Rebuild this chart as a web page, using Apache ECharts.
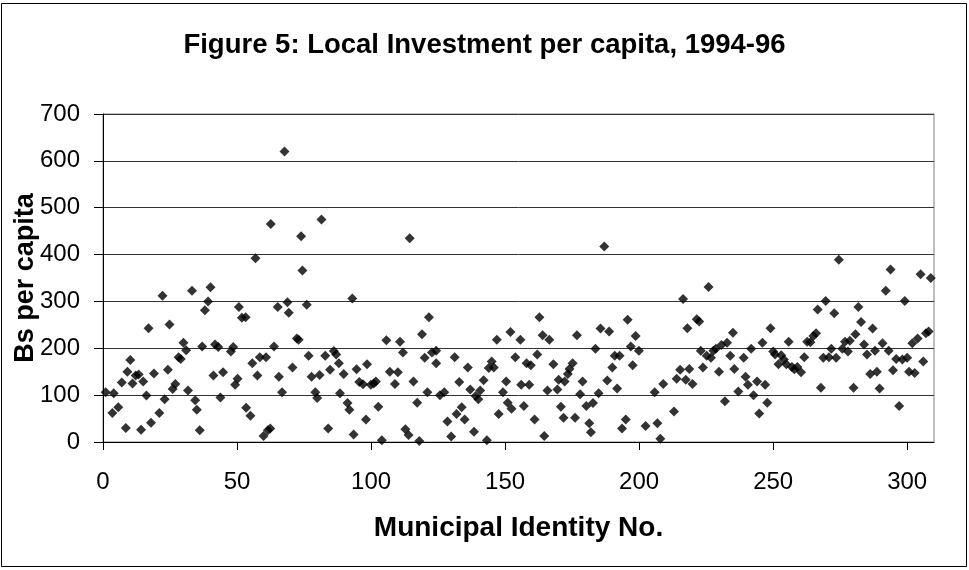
<!DOCTYPE html>
<html lang="en">
<head>
    <meta charset="UTF-8">
    <title>Figure 5: Local Investment per capita</title>
    <script src="https://cdn.jsdelivr.net/npm/echarts@6/dist/echarts.min.js"></script>
    <style>
        html, body {
            margin: 0;
            padding: 0;
            background: #fff;
        }
        #chart {
            width: 969px;
            height: 570px;
        }
    </style>
</head>
<body>
<div id="chart"></div>
<script>
    // municipal identity number (x) and Bs per capita (y)
    const ids = [
        1, 4, 3.5, 5.7, 7, 8.5, 9.1, 10.2, 11, 12.2, 13.3, 14.2, 15, 16.2, 17, 17.9, 19, 21, 22.2, 23,
        24.2, 24.8, 26, 27, 28.2, 29, 30, 31, 31.7, 33.2, 34.4, 35, 36.1, 37, 38, 39.2, 40.1, 41.2, 41.8, 43,
        43.8, 44.8, 47.7, 48.6, 49.3, 50.2, 50.7, 51.8, 53.2, 53.4, 55, 55.7, 56.9, 57.6, 58.5, 59.9, 60.8, 61.5, 62.4, 62.6,
        63.8, 65.2, 65.6, 66.8, 67.7, 68.8, 69.3, 70.7, 72.3, 73, 73.9, 74.4, 76, 76.7, 77.8, 79.2, 79.9, 80.8, 81.5, 82.9,
        84, 84.7, 86.1, 87, 88, 88.4, 89.8, 91.2, 91.9, 93, 93.5, 94.6, 95.6, 97, 98.1, 98.5, 99.9, 101, 101.8, 102.7,
        104, 105.7, 107, 108.9, 110, 110.8, 111.9, 112.8, 114, 114.4, 115.8, 117.2, 118, 119, 120, 121, 121.6, 122.7, 124.3, 124.3,
        125.7, 127.3, 128.5, 129.9, 131.2, 131.9, 132.9, 133.8, 134.9, 136.1, 137, 138.4, 139, 140, 140.7, 142, 143.2, 143.9, 145, 145.8,
        146.9, 147.6, 149.2, 150.4, 151, 152, 152.4, 153.8, 155.7, 156, 157, 158, 159, 159.6, 161, 162, 162.8, 164, 164.6, 165.8,
        166.5, 168, 169.5, 170, 170.8, 171.8, 172.2, 173.4, 174, 175.2, 176.1, 176.8, 178, 178.9, 180.3, 181.4, 182, 182.8, 183.7, 184.9,
        185.6, 187, 188.1, 188.8, 190, 190.9, 191.8, 192.7, 193.6, 195, 195.7, 196.9, 197.6, 198.7, 199.9, 202.4, 205.8, 206.8, 207.9, 209,
        213, 214, 215.3, 216.4, 217.4, 218, 218.7, 219.9, 221.5, 222.4, 223, 223.8, 225.2, 225.9, 226.8, 227.7, 228.6, 229.8, 230.7, 232,
        232.8, 234, 235, 235.5, 237, 239, 239.7, 240.6, 241.8, 242.7, 244, 244.8, 246, 247, 247.8, 249, 250, 250.7, 252, 253,
        254, 254.9, 255.8, 257, 257.9, 259, 260.4, 261.6, 262.7, 263.9, 265, 266, 266.6, 267.8, 268.7, 269.6, 270.8, 271.7, 272.8, 273.5,
        274.5, 275.8, 276.8, 277.9, 278.6, 280, 280.7, 281.8, 282.8, 283.9, 285, 286.2, 287.1, 288, 288.7, 289.7, 290.8, 292, 293.1, 293.8,
        294.7, 295.9, 297, 298.2, 299.1, 300, 300.7, 301.9, 302.8, 303.9, 305, 306, 307, 308, 308.8
    ];
    const perCapita = [
        106, 104, 62, 74, 127, 30, 150, 175, 125, 142, 144, 26, 129, 99, 243, 41, 146, 62, 312, 91,
        154, 251, 113, 124, 181, 177, 212, 196, 110, 323, 89, 69, 25, 204, 281, 300, 330, 142, 208, 203,
        95, 149, 193, 203, 122, 135, 288, 265, 266, 73, 56, 168, 392, 142, 181, 13, 181, 25, 29, 465,
        204, 288, 139, 106, 620, 298, 276, 159, 221, 218, 439, 366, 293, 184, 139, 106, 94, 143, 475, 184,
        29, 154, 194, 187, 168, 104, 145, 83, 69, 306, 16, 155, 128, 123, 48, 166, 122, 125, 129, 75,
        4, 217, 150, 124, 149, 214, 191, 27, 15, 435, 129, 84, 2, 230, 180, 106, 266, 191, 195, 168,
        100, 106, 44, 12, 181, 60, 128, 74, 48, 159, 112, 22, 98, 91, 110, 132, 4, 158, 172, 159,
        218, 60, 106, 129, 84, 235, 71, 181, 218, 122, 77, 168, 122, 164, 48, 187, 266, 228, 13, 110,
        218, 166, 112, 133, 75, 52, 129, 145, 156, 168, 52, 228, 102, 129, 77, 40, 21, 83, 199, 104,
        242, 417, 131, 236, 159, 184, 114, 184, 29, 48, 261, 204, 164, 226, 195, 34, 106, 40, 7, 124,
        65, 135, 154, 305, 133, 243, 156, 124, 262, 257, 195, 159, 184, 331, 180, 195, 199, 150, 207, 87,
        212, 184, 233, 156, 108, 180, 139, 122, 199, 100, 129, 61, 212, 122, 84, 243, 193, 187, 166, 185,
        176, 166, 214, 160, 155, 160, 149, 181, 214, 213, 226, 232, 283, 116, 180, 301, 181, 199, 275, 180,
        389, 199, 214, 193, 216, 116, 230, 288, 256, 208, 187, 145, 242, 195, 150, 114, 211, 323, 195, 368,
        153, 177, 77, 176, 301, 180, 150, 211, 147, 221, 358, 172, 232, 236, 350
    ];
    const xTicks = [0, 50, 100, 150, 200, 250, 300];

    const font = 'Liberation Sans, Arial, sans-serif';
    const points = ids.map(function (x, i) {
        return [x, perCapita[i]];
    });

    let myChart = echarts.init(document.getElementById('chart'));
    let option = {
        animation: false,
        backgroundColor: '#fff',
        title: {
            text: 'Figure 5: Local Investment per capita, 1994-96',
            left: 'center',
            top: 26,
            textStyle: {
                fontFamily: font,
                fontSize: 27.5,
                fontWeight: 'bold',
                color: '#000'
            }
        },
        graphic: [{
            type: 'rect',
            shape: {x: 1.5, y: 3.5, width: 965, height: 563},
            style: {fill: 'none', stroke: '#000', lineWidth: 1},
            silent: true
        }],
        grid: {
            left: 103,
            right: 35,
            top: 114,
            bottom: 128,
            outerBoundsMode: 'none',
            show: true,
            borderColor: '#808080',
            borderWidth: 1
        },
        xAxis: {
            type: 'value',
            min: 0,
            max: 310,
            interval: 50,
            name: 'Municipal Identity No.',
            nameLocation: 'middle',
            nameGap: 72,
            nameMoveOverlap: false,
            nameTextStyle: {
                fontFamily: font,
                fontSize: 28,
                fontWeight: 'bold',
                color: '#000'
            },
            axisLine: {lineStyle: {color: '#000', width: 1}},
            axisTick: {
                show: true,
                length: 8,
                lineStyle: {color: '#000'},
                customValues: xTicks
            },
            axisLabel: {
                margin: 28,
                fontFamily: font,
                fontSize: 24,
                color: '#000',
                customValues: xTicks
            },
            splitLine: {show: false}
        },
        yAxis: {
            type: 'value',
            min: 0,
            max: 700,
            interval: 100,
            name: 'Bs per capita',
            nameLocation: 'middle',
            nameGap: 64,
            nameMoveOverlap: false,
            nameTextStyle: {
                fontFamily: font,
                fontSize: 27,
                fontWeight: 'bold',
                color: '#000'
            },
            axisLine: {show: true, lineStyle: {color: '#000', width: 1}},
            axisTick: {show: true, length: 9, lineStyle: {color: '#000'}},
            axisLabel: {
                margin: 23,
                fontFamily: font,
                fontSize: 24,
                color: '#000'
            },
            splitLine: {lineStyle: {color: '#333', width: 1}}
        },
        series: [{
            name: 'Bs per capita',
            type: 'scatter',
            symbol: 'diamond',
            symbolSize: 10,
            itemStyle: {color: '#000'},
            data: points
        }]
    };
    myChart.setOption(option);
</script>
</body>
</html>
